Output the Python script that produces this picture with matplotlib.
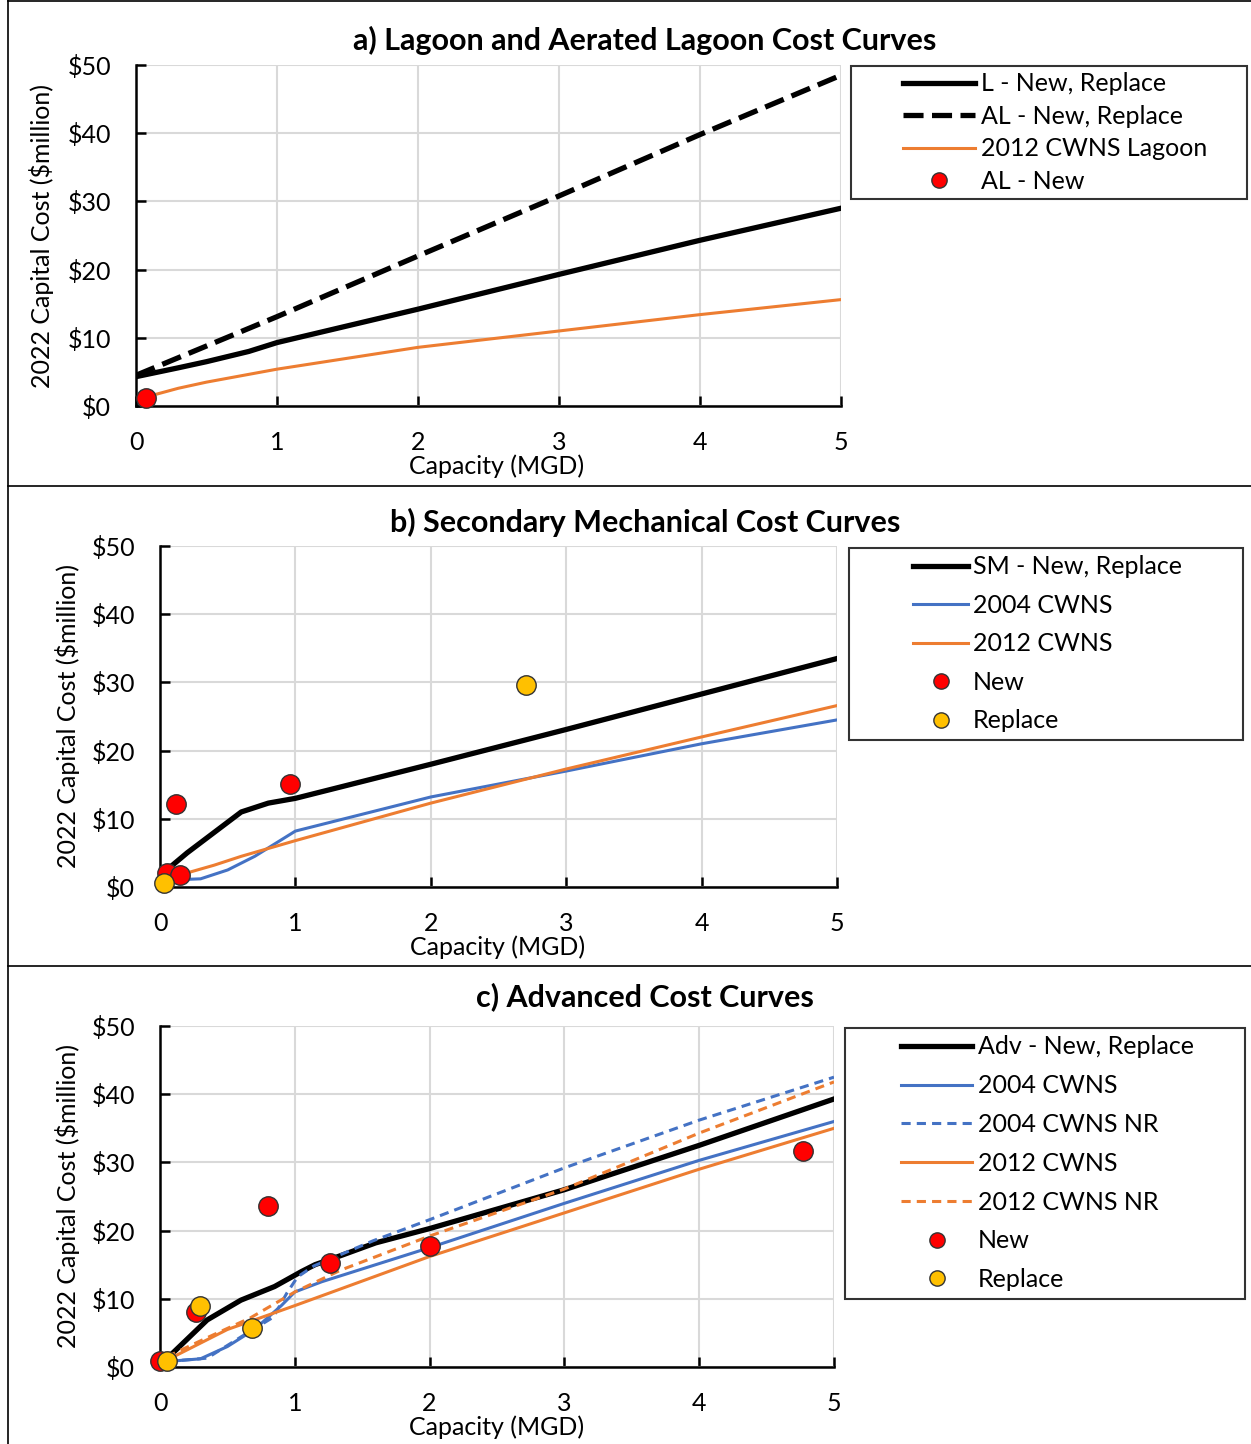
import matplotlib
matplotlib.use("Agg")
import matplotlib.pyplot as plt
from matplotlib.lines import Line2D
from matplotlib.legend_handler import HandlerLine2D

plt.rcParams['font.family'] = ['Lato', 'DejaVu Sans']

BLUE = '#4472C4'
ORANGE = '#ED7D31'
RED = '#FF0000'
GOLD = '#FFC000'

# ---- panel a data ----
a_l_x = [0, 0.3, 0.5, 0.8, 1, 2, 3, 4, 5]
a_l_y = [4.3, 5.6, 6.5, 8.0, 9.3, 14.2, 19.3, 24.3, 29.0]
a_al_x = [0, 0.5, 1, 2, 3, 4, 5]
a_al_y = [4.5, 8.8, 13.1, 22.0, 30.8, 39.8, 48.5]
a_cwns_x = [0.05, 0.3, 0.5, 1, 2, 3, 4, 5]
a_cwns_y = [1.2, 2.6, 3.5, 5.4, 8.6, 11.0, 13.4, 15.6]
a_new_x = [0.07]
a_new_y = [1.2]

# ---- panel b data ----
b_sm_x = [0.05, 0.2, 0.4, 0.6, 0.8, 1, 2, 3, 4, 5]
b_sm_y = [2.5, 5.0, 8.0, 11.0, 12.3, 13.0, 18.0, 23.1, 28.3, 33.5]
b_04_x = [0.05, 0.3, 0.5, 0.7, 1, 2, 3, 4, 5]
b_04_y = [1.0, 1.2, 2.5, 4.5, 8.2, 13.2, 17.0, 21.0, 24.5]
b_12_x = [0.1, 0.4, 0.6, 1, 2, 3, 4, 5]
b_12_y = [1.5, 3.2, 4.5, 6.8, 12.3, 17.3, 22.0, 26.6]
b_new_x = [0.05, 0.12, 0.15, 0.96]
b_new_y = [2.1, 12.1, 1.8, 15.1]
b_rep_x = [0.03, 2.7]
b_rep_y = [0.6, 29.6]

# ---- panel c data ----
c_adv_x = [0.05, 0.35, 0.6, 0.85, 1.05, 1.15, 1.35, 1.6, 2, 3, 4, 5]
c_adv_y = [1.2, 6.9, 9.8, 11.8, 14.0, 15.0, 16.4, 18.2, 20.3, 26.0, 32.5, 39.3]
c_04_x = [0.05, 0.3, 0.5, 0.7, 0.9, 1.0, 1.2, 2, 3, 4, 5]
c_04_y = [0.8, 1.2, 3.0, 5.5, 9.0, 11.0, 12.5, 17.5, 24.0, 30.3, 36.0]
c_04nr_x = [0.05, 0.35, 0.6, 0.84, 0.94, 1.02, 1.14, 1.58, 2, 3, 4, 5]
c_04nr_y = [0.8, 1.3, 4.4, 7.3, 10.8, 13.2, 14.8, 18.5, 21.6, 29.2, 36.2, 42.5]
c_12_x = [0.05, 0.5, 1, 2, 3, 4, 5]
c_12_y = [1.0, 5.5, 9.0, 16.2, 22.6, 29.0, 35.0]
c_12nr_x = [0.05, 0.35, 0.67, 1, 1.34, 2, 3, 4, 5]
c_12nr_y = [1.5, 4.3, 7.2, 11.0, 14.2, 19.2, 26.1, 34.3, 41.8]
c_new_x = [0.0, 0.27, 0.80, 1.26, 2.0, 4.77]
c_new_y = [0.9, 8.0, 23.6, 15.2, 17.7, 31.7]
c_rep_x = [0.05, 0.30, 0.685]
c_rep_y = [0.9, 8.9, 5.7]

y_ticks = [0, 10, 20, 30, 40, 50]
y_labels = ['$0', '$10', '$20', '$30', '$40', '$50']
x_ticks = [0, 1, 2, 3, 4, 5]

fig = plt.figure(figsize=(12.51, 14.44), dpi=100)
W, H = 1251.0, 1444.0
FS = 18


class ShiftedHandler(HandlerLine2D):
    # draws the legend line only on the right part of the handle box
    def __init__(self, frac, **kw):
        super().__init__(**kw)
        self.frac = frac

    def create_artists(self, legend, orig_handle, xdescent, ydescent,
                       width, height, fontsize, trans):
        off = width * self.frac
        return super().create_artists(legend, orig_handle, xdescent - off, ydescent,
                                      width - off, height, fontsize, trans)


def ax_at(l, r, t, b):
    return fig.add_axes([l / W, 1 - b / H, (r - l) / W, (b - t) / H])


def style(ax, title, title_y, ylx, xlx):
    ax.set_xlim(0, 5)
    ax.set_ylim(0, 50)
    ax.set_xticks(x_ticks)
    ax.set_yticks(y_ticks)
    ax.set_yticklabels(y_labels)
    ax.grid(True, color='#d9d9d9', linewidth=1.5)
    ax.set_axisbelow(True)
    for s in ['top', 'right']:
        ax.spines[s].set_visible(False)
    for s in ['left', 'bottom']:
        ax.spines[s].set_linewidth(1.8)
    ax.tick_params(direction='in', length=7, width=1.8, labelsize=FS)
    ax.tick_params(axis='x', pad=18)
    ax.tick_params(axis='y', pad=18)
    ax.set_xlabel('Capacity (MGD)', fontsize=FS)
    ax.xaxis.set_label_coords(xlx, -0.142)
    ax.set_ylabel('2022 Capital Cost ($million)', fontsize=FS)
    ax.yaxis.set_label_coords(ylx, 0.5)
    fig.text(645 / W, 1 - title_y / H, title, fontsize=22, fontweight='bold',
             ha='center', va='center')


def dots(ax, x, y, color):
    ax.plot(x, y, 'o', ms=14, color=color, markeredgecolor='#333333',
            markeredgewidth=1.0, linestyle='none', zorder=5, clip_on=False)


def legend(ax, handles, labels, box, spacing, hlen, frac, bpad, tpad):
    left, right, top = box
    hm = {h: ShiftedHandler(frac) for h in handles}
    leg = ax.legend(handles, labels, loc='upper left', mode='expand',
                    bbox_to_anchor=(left / W, 1 - top / H - 0.05, (right - left) / W, 0.05),
                    bbox_transform=fig.transFigure, borderaxespad=0,
                    fontsize=FS, frameon=True, fancybox=False, edgecolor='black',
                    handlelength=hlen, labelspacing=spacing, borderpad=bpad,
                    handletextpad=tpad, handler_map=hm)
    leg.get_frame().set_linewidth(1.5)


def dot_handle(color):
    return Line2D([], [], marker='o', ms=11, color=color, markeredgecolor='#333333',
                  linestyle='none')


# ---- a ----
ax = ax_at(136, 841, 65, 406)
ax.plot(a_l_x, a_l_y, color='black', lw=3.8)
ax.plot(a_al_x, a_al_y, color='black', lw=3.8, dashes=(3.8, 1.6))
ax.plot(a_cwns_x, a_cwns_y, color=ORANGE, lw=2.2)
dots(ax, a_new_x, a_new_y, RED)
style(ax, 'a) Lagoon and Aerated Lagoon Cost Curves', 40, -0.116, 0.512)
legend(ax, [Line2D([], [], color='black', lw=3.8),
            Line2D([], [], color='black', lw=3.8, dashes=(3.8, 1.6)),
            Line2D([], [], color=ORANGE, lw=2.2),
            dot_handle(RED)],
       ['L - New, Replace', 'AL - New, Replace', '2012 CWNS Lagoon', 'AL - New'],
       (851, 1247, 66), 0.38, 4.72, 0.39, 0.25, 0.24)

# ---- b ----
ax = ax_at(160, 837, 546, 887)
ax.plot(b_sm_x, b_sm_y, color='black', lw=3.8)
ax.plot(b_04_x, b_04_y, color=BLUE, lw=2.2)
ax.plot(b_12_x, b_12_y, color=ORANGE, lw=2.2)
dots(ax, b_new_x, b_new_y, RED)
dots(ax, b_rep_x, b_rep_y, GOLD)
style(ax, 'b) Secondary Mechanical Cost Curves', 522, -0.118, 0.498)
legend(ax, [Line2D([], [], color='black', lw=3.8),
            Line2D([], [], color=BLUE, lw=2.2),
            Line2D([], [], color=ORANGE, lw=2.2),
            dot_handle(RED), dot_handle(GOLD)],
       ['SM - New, Replace', '2004 CWNS', '2012 CWNS', 'New', 'Replace'],
       (849, 1243, 548), 0.62, 4.46, 0.51, 0.3, 0.2)

# ---- c ----
ax = ax_at(160, 834, 1026, 1367)
ax.plot(c_adv_x, c_adv_y, color='black', lw=3.8)
ax.plot(c_04_x, c_04_y, color=BLUE, lw=2.2)
ax.plot(c_04nr_x, c_04nr_y, color=BLUE, lw=2.2, dashes=(3, 2))
ax.plot(c_12_x, c_12_y, color=ORANGE, lw=2.2)
ax.plot(c_12nr_x, c_12nr_y, color=ORANGE, lw=2.2, dashes=(3, 2))
dots(ax, c_new_x, c_new_y, RED)
dots(ax, c_rep_x, c_rep_y, GOLD)
style(ax, 'c) Advanced Cost Curves', 997, -0.118, 0.5)
legend(ax, [Line2D([], [], color='black', lw=3.8),
            Line2D([], [], color=BLUE, lw=2.2),
            Line2D([], [], color=BLUE, lw=2.2, dashes=(3, 2)),
            Line2D([], [], color=ORANGE, lw=2.2),
            Line2D([], [], color=ORANGE, lw=2.2, dashes=(3, 2)),
            dot_handle(RED), dot_handle(GOLD)],
       ['Adv - New, Replace', '2004 CWNS', '2004 CWNS NR', '2012 CWNS',
        '2012 CWNS NR', 'New', 'Replace'],
       (845, 1245, 1028), 0.63, 4.78, 0.41, 0.3, 0.24)

# panel frame and separators
for yy in [1.0 - 1 / H, 1 - 486 / H, 1 - 966 / H]:
    fig.add_artist(Line2D([8 / W, 1], [yy, yy], color='black', lw=1.2))
fig.add_artist(Line2D([8 / W, 8 / W], [0, 1], color='black', lw=1.2))

fig.savefig('out.png', dpi=100)
